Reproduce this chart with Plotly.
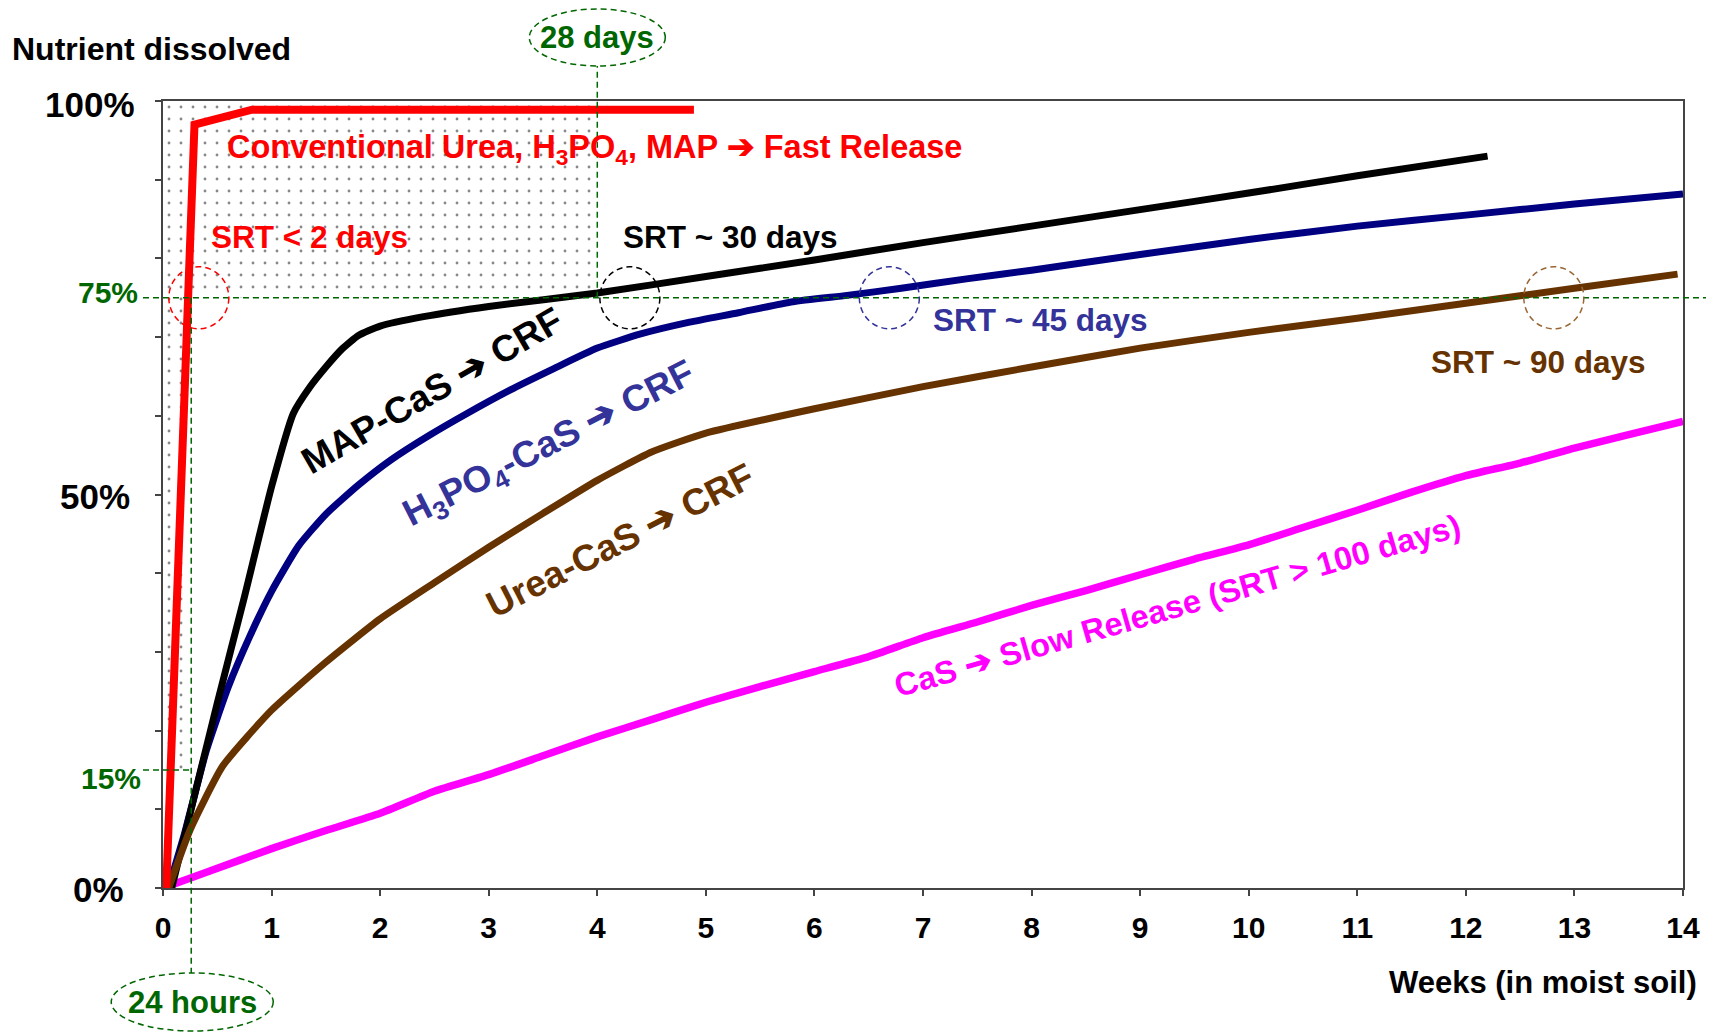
import plotly.graph_objects as go

# ---------------- data (weeks in moist soil, % nutrient dissolved) ----------------
weeks_conv = [0.03, 0.29, 0.82, 4.89]
pct_conv = [0.0, 97.0, 98.9, 98.9]

weeks_map = [0.08, 0.25, 0.5, 0.75, 1.0, 1.2, 1.35, 1.5, 1.65, 1.8, 2.0, 2.4, 3.0, 4.0, 5.0, 6.0, 7.0, 8.0, 9.0, 10.0, 11.0, 12.2]
pct_map = [0.0, 9.5, 23.5, 37.0, 51.0, 60.3, 63.6, 66.2, 68.5, 70.2, 71.4, 72.6, 73.9, 75.6, 77.7, 79.8, 82.0, 84.1, 86.2, 88.3, 90.5, 93.0]

weeks_h3po4 = [0.05, 0.2, 0.4, 0.6, 0.8, 1.0, 1.25, 1.5, 1.8, 2.1, 2.45, 2.8, 3.2, 3.6, 4.0, 4.4, 4.85, 5.3, 5.8, 6.3, 6.8, 7.4, 8.0, 9.0, 10.0, 11.0, 12.0, 13.0, 14.0]
pct_h3po4 = [0.0, 7.0, 17.5, 25.5, 32.0, 37.7, 43.5, 47.5, 51.2, 54.4, 57.5, 60.3, 63.3, 66.0, 68.6, 70.4, 71.9, 73.1, 74.5, 75.3, 76.2, 77.4, 78.5, 80.5, 82.4, 84.1, 85.5, 86.9, 88.2]

weeks_urea = [0.04, 0.25, 0.55, 1.0, 1.5, 2.0, 2.5, 3.0, 3.5, 4.0, 4.5, 5.0, 6.0, 7.0, 8.0, 9.0, 10.0, 11.0, 12.0, 13.0, 13.95]
pct_urea = [-0.5, 7.4, 15.5, 22.6, 28.7, 34.2, 38.8, 43.3, 47.6, 51.8, 55.4, 57.8, 60.9, 63.7, 66.2, 68.6, 70.6, 72.4, 74.3, 76.2, 78.0]

weeks_cas = [0.0, 0.4, 1.0, 1.5, 2.0, 2.5, 3.0, 3.5, 4.0, 4.5, 5.0, 5.5, 6.0, 6.5, 7.0, 7.5, 8.0, 8.5, 9.0, 9.5, 10.0, 10.5, 11.0, 11.5, 12.0, 12.5, 13.0, 13.5, 14.0]
pct_cas = [0.0, 2.0, 5.0, 7.3, 9.5, 12.3, 14.4, 16.8, 19.2, 21.4, 23.6, 25.6, 27.5, 29.4, 31.8, 33.8, 35.9, 37.8, 39.8, 41.8, 43.6, 45.8, 48.0, 50.3, 52.4, 54.0, 55.9, 57.6, 59.3]

x_ticks = list(range(0, 15))
x_tick_text = [str(v) for v in x_ticks]
y_ticks = list(range(0, 101, 10))
y_label_vals = [100, 75, 50, 15, 0]
y_label_text = ["100%", "75%", "50%", "15%", "0%"]

# reference markers
ref_pct = 75          # 75% dissolved line
low_pct = 15          # 15% line
day1_week = 0.26      # "24 hours" marker as drawn
day28_week = 4        # "28 days" marker
srt_cross_weeks = [0.33, 4.3, 6.69, 12.81]   # SRT circles (conventional, MAP, H3PO4, urea)

# dotted "fast release" zone
zone_x = [0, day28_week, day28_week, day1_week, day1_week, 0, 0]
zone_y = [100, 100, ref_pct, ref_pct, low_pct, low_pct, 100]

# ---------------- styling ----------------
RED = "#FF0000"
BLACK = "#000000"
NAVY = "#000080"
BLUE_TXT = "#333399"
BROWN = "#663300"
BROWN_CIRC = "#996633"
MAGENTA = "#FF00FF"
GREEN = "#006600"
FONT = "Liberation Sans, Arial, Helvetica, sans-serif"

L, R, T, B = 163, 38, 101, 144
W, H = 1721, 1032
PW, PH = W - L - R, H - T - B

fig = go.Figure()

fig.add_trace(go.Scatter(
    x=zone_x, y=zone_y, mode="none", fill="toself",
    fillcolor="rgba(0,0,0,0)",
    fillpattern=dict(shape=".", size=12, solidity=0.045, fgcolor="#111111"),
    hoverinfo="skip", showlegend=False))

series = [
    (weeks_cas, pct_cas, MAGENTA, 7.5, "spline"),
    (weeks_h3po4, pct_h3po4, NAVY, 7, "spline"),
    (weeks_map, pct_map, BLACK, 7, "spline"),
    (weeks_urea, pct_urea, BROWN, 7, "spline"),
    (weeks_conv, pct_conv, RED, 8, "linear"),
]
for xs, ys, col, wd, shp in series:
    line = dict(color=col, width=wd, shape=shp)
    if shp == "spline":
        line["smoothing"] = 0.5
    fig.add_trace(go.Scatter(x=xs, y=ys, mode="lines", line=line,
                             showlegend=False, hoverinfo="skip"))

dash = "6px,4px"
shapes = []
shapes.append(dict(type="line", xref="paper", yref="y", x0=-20 / PW, x1=(W - 15 - L) / PW,
                   y0=ref_pct, y1=ref_pct, line=dict(color=GREEN, width=1.5, dash=dash)))
shapes.append(dict(type="line", xref="paper", yref="y", x0=-20 / PW, x1=day1_week / 14,
                   y0=low_pct, y1=low_pct, line=dict(color=GREEN, width=1.5, dash=dash)))
shapes.append(dict(type="line", xref="x", yref="paper", x0=day1_week, x1=day1_week,
                   y0=ref_pct / 100, y1=-85 / PH, line=dict(color=GREEN, width=1.5, dash=dash)))
shapes.append(dict(type="line", xref="x", yref="paper", x0=day28_week, x1=day28_week,
                   y0=ref_pct / 100, y1=1 + 35 / PH, line=dict(color=GREEN, width=1.5, dash=dash)))
shapes.append(dict(type="circle", xref="x", yref="paper", xsizemode="pixel", ysizemode="pixel",
                   xanchor=day28_week, yanchor=1, x0=-68, x1=68, y0=35, y1=92,
                   line=dict(color=GREEN, width=1.5, dash=dash)))
shapes.append(dict(type="circle", xref="paper", yref="paper", xsizemode="pixel", ysizemode="pixel",
                   xanchor=day1_week / 14, yanchor=0, x0=-80, x1=82, y0=-85, y1=-143,
                   line=dict(color=GREEN, width=1.5, dash=dash)))
for wk, col in zip(srt_cross_weeks, [RED, BLACK, BLUE_TXT, BROWN_CIRC]):
    shapes.append(dict(type="circle", xref="x", yref="y", xsizemode="pixel", ysizemode="pixel",
                       xanchor=wk, yanchor=ref_pct, x0=-30, x1=30, y0=-31, y1=31,
                       line=dict(color=col, width=1.5, dash=dash)))

ann = []
def txt(text, x, y, color, size, xref="x", yref="y", xanchor="left", yanchor="middle",
        angle=0, xshift=0, yshift=0):
    ann.append(dict(text=text, x=x, y=y, xref=xref, yref=yref, xanchor=xanchor,
                    yanchor=yanchor, textangle=angle, showarrow=False, xshift=xshift,
                    yshift=yshift, font=dict(family=FONT, size=size, color=color)))

y_lab_cfg = {100: (BLACK, 35, -26, -3), 75: (GREEN, 30, -23, 5), 50: (BLACK, 35, -31, -2),
             15: (GREEN, 30, -20, -9), 0: (BLACK, 35, -37, -1)}
for v, t in zip(y_label_vals, y_label_text):
    col, sz, xs_, ys_ = y_lab_cfg[v]
    txt("<b>%s</b>" % t, 0, v, col, sz, xref="paper", xanchor="right", xshift=xs_, yshift=ys_)

txt("<b>Nutrient dissolved</b>", 0, 1, BLACK, 32, xref="paper", yref="paper", xshift=-153, yshift=52)
txt("<b>Weeks (in moist soil)</b>", 1, 0, BLACK, 31, xref="paper", yref="paper", xanchor="right",
    xshift=16, yshift=-94)
txt("<b>28 days</b>", day28_week, 1, GREEN, 31, yref="paper", xanchor="center", yshift=64)
txt("<b>24 hours</b>", day1_week / 14, 0, GREEN, 31, xref="paper", yref="paper", xanchor="center",
    xshift=1, yshift=-114)

txt("<b>Conventional Urea, H<sub>3</sub>PO<sub>4</sub>, MAP \u2794 Fast Release</b>", 0.57, 93.8, RED, 32.5)
txt("<b>SRT &lt; 2 days</b>", 0.42, 82.7, RED, 31.5)
txt("<b>SRT ~ 30 days</b>", 4.22, 82.7, BLACK, 31.5)
txt("<b>SRT ~ 45 days</b>", 7.07, 72.2, BLUE_TXT, 31.5)
txt("<b>SRT ~ 90 days</b>", 11.66, 66.8, BROWN, 31.5)

txt("<b>MAP-CaS \u2794 CRF</b>", 2.48, 63.2, BLACK, 37, xanchor="center", angle=-30)
txt("<b>H<sub>3</sub>PO<sub>4</sub>-CaS \u2794 CRF</b>", 3.56, 56.3, BLUE_TXT, 37, xanchor="center", angle=-27)
txt("<b>Urea-CaS \u2794 CRF</b>", 4.21, 44.2, BROWN, 37, xanchor="center", angle=-27)
txt("<b>CaS \u2794 Slow Release (SRT &gt; 100 days)</b>", 9.34, 35.8, MAGENTA, 32.5, xanchor="center", angle=-16)

fig.update_layout(
    width=W, height=H, autosize=False,
    margin=dict(l=L, r=R, t=T, b=B, pad=0),
    paper_bgcolor="white", plot_bgcolor="white",
    showlegend=False, font=dict(family=FONT, color="black"),
    shapes=shapes, annotations=ann,
)
fig.update_xaxes(range=[0, 14], tickmode="array", tickvals=x_ticks,
                 ticktext=["<b>%s</b>" % t for t in x_tick_text],
                 ticks="outside", ticklen=6, tickwidth=2, tickcolor="#444444",
                 showline=True, linecolor="#444444", linewidth=2, mirror=True,
                 showgrid=False, zeroline=False, ticklabelstandoff=6,
                 tickfont=dict(family=FONT, size=30, color="black"))
fig.update_yaxes(range=[0, 100], tickmode="array", tickvals=y_ticks, showticklabels=False,
                 ticks="outside", ticklen=6, tickwidth=2, tickcolor="#444444",
                 showline=True, linecolor="#444444", linewidth=2, mirror=True,
                 showgrid=False, zeroline=False)

fig.write_html("out.html", config={"displayModeBar": False},
               post_script="document.body.style.margin='0';document.body.style.overflow='hidden';")
